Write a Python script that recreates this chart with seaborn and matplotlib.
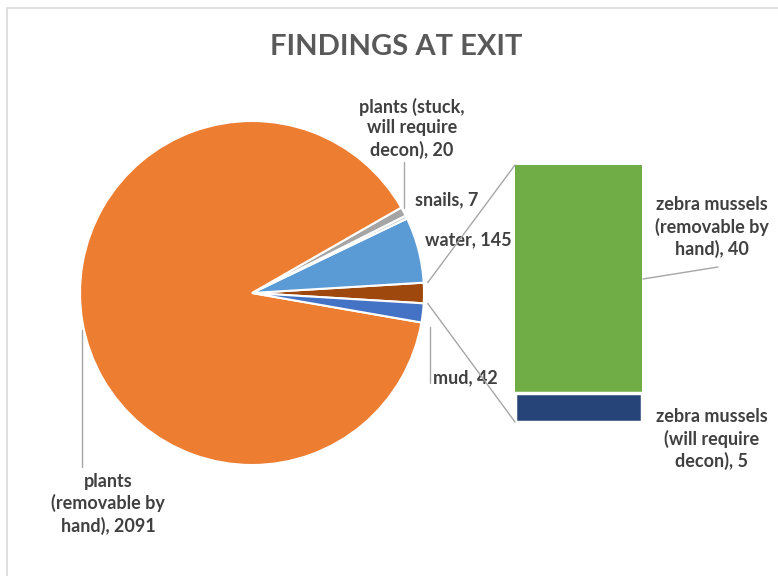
import numpy as np
import matplotlib
matplotlib.use("Agg")
import matplotlib.pyplot as plt
from matplotlib.patches import ConnectionPatch, Rectangle
import seaborn as sns

# ---------------- data ----------------
title = "FINDINGS AT EXIT"
pie_names = ["water", "snails", "plants (stuck,\nwill require\ndecon)",
             "plants\n(removable by\nhand)", "mud"]
pie_values = [145, 7, 20, 2091, 42]
pie_colors = ["#5B9BD5", "#C9C9C9", "#A5A5A5", "#ED7D31", "#4472C4"]

bar_names = ["zebra mussels\n(removable by\nhand)", "zebra mussels\n(will require\ndecon)"]
bar_values = [40, 5]
bar_colors = ["#70AD47", "#264478"]
other_color = "#9E480E"

# ---------------- style ----------------
sns.set_theme(style="white")
plt.rcParams["font.family"] = ["Lato", "DejaVu Sans"]
TXT = "#404040"
LEAD = "#A6A6A6"

W, H = 778, 576
fig = plt.figure(figsize=(W / 100, H / 100), dpi=100)
ax = fig.add_axes([0, 0, 1, 1])


def Y(y):
    return H - y


# ---------------- pie ----------------
other_value = sum(bar_values)
vals = [other_value] + pie_values
cols = [other_color] + pie_colors
total = sum(vals)
other_deg = other_value / total * 360
cx, cy, R = 252, Y(293), 172
explode_px = 4
explode = [explode_px / R if c != "#ED7D31" else 0 for c in cols]
wedges, _ = ax.pie(vals, colors=cols, startangle=-other_deg / 2,
                   counterclock=True, center=(cx, cy), radius=R,
                   explode=explode, frame=True,
                   wedgeprops=dict(edgecolor="white", linewidth=1.5))
ax.set_xlim(0, W)
ax.set_ylim(0, H)
ax.set_aspect("equal")
ax.axis("off")

# chart border
ax.add_patch(Rectangle((7, Y(8) - 700), 900, 700, fill=False,
                       edgecolor="#D9D9D9", lw=1.2))

# ---------------- bar (second plot) ----------------
bax = fig.add_axes([515 / W, (H - 422) / H, 127 / W, 257 / H])
sns.barplot(x=["z"], y=[sum(bar_values)], color=bar_colors[0], width=1.0,
            ax=bax, edgecolor="white", linewidth=0, saturation=1)
sns.barplot(x=["z"], y=[bar_values[1]], color=bar_colors[1], width=1.0,
            ax=bax, edgecolor="white", linewidth=2.5, saturation=1)
for p in bax.patches:
    p.set_clip_on(False)
bax.set_xlim(-0.5, 0.5)
bax.set_ylim(0, sum(bar_values))
bax.axis("off")

# connector lines from the "other" wedge to the bar
half = np.deg2rad(other_deg / 2)
ox = cx + explode_px + R * np.cos(half)
for sgn, by in [(1, sum(bar_values)), (-1, 0)]:
    oy = cy + sgn * R * np.sin(half)
    con = ConnectionPatch(xyA=(ox, oy), coordsA=ax.transData,
                          xyB=(-0.5, by), coordsB=bax.transData,
                          color=LEAD, lw=1)
    fig.add_artist(con)

# ---------------- title ----------------
ax.text(396, Y(47), title, ha="center", va="center", fontsize=21,
        fontweight="bold", color="#595959")

# ---------------- labels ----------------
fs = 13
lsp = 1.27


def label(x, y, s, ha="center"):
    ax.text(x, Y(y), s, ha=ha, va="center", fontsize=fs, fontweight="bold",
            color=TXT, linespacing=lsp)


def lead(x0, y0, x1, y1):
    ax.plot([x0, x1], [Y(y0), Y(y1)], color=LEAD, lw=1)


label(412, 128, f"{pie_names[2]}, {pie_values[2]}")
lead(404, 162, 404, 208)
label(415, 200, f"{pie_names[1]}, {pie_values[1]}", ha="left")
label(425, 240, f"{pie_names[0]}, {pie_values[0]}", ha="left")
label(433, 378, f"{pie_names[4]}, {pie_values[4]}", ha="left")
lead(430, 327, 430, 383)
label(108, 504, f"{pie_names[3]}, {pie_values[3]}")
lead(82, 330, 82, 467)
label(712, 227, f"{bar_names[0]}, {bar_values[0]}")
lead(643, 279, 718, 267)
label(712, 439, f"{bar_names[1]}, {bar_values[1]}")

fig.savefig("out.png", dpi=100)
